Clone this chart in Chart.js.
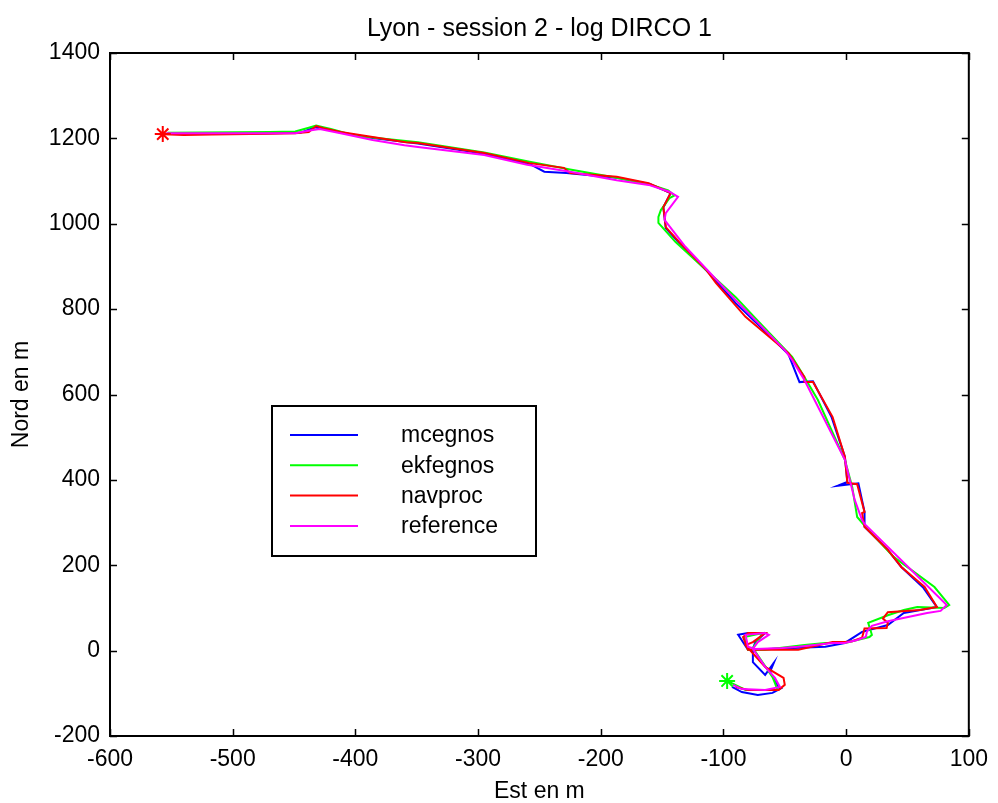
<!DOCTYPE html>
<html>
<head>
<meta charset="utf-8">
<script src="https://cdn.jsdelivr.net/npm/chart.js@4/dist/chart.umd.min.js"></script>
<style>
  html, body { margin: 0; padding: 0; background: #fff; }
  #wrap { width: 998px; height: 803px; }
</style>
</head>
<body>
<div id="wrap"><canvas id="trackChart"></canvas></div>
<script>
// ─── Data (Est / Nord in metres) ──────────────────────────

const chartTitle = 'Lyon - session 2 - log DIRCO 1';
const xTitle = 'Est en m';
const yTitle = 'Nord en m';
const xTicks = [-600, -500, -400, -300, -200, -100, 0, 100];
const yTicks = [-200, 0, 200, 400, 600, 800, 1000, 1200, 1400];

const seriesNames = ['mcegnos', 'ekfegnos', 'navproc', 'reference'];
const seriesColors = ['#0000ff', '#00ff00', '#ff0000', '#ff00ff'];

const mcegnosX = [-556, -520, -470, -445, -433, -412, -386, -349, -295, -258, -246, -228, -187, -160, -143, -149, -148, -147, -136, -112, -90, -65, -47, -38, -27, -12, -1, 1, -7, 10, 15, 15, 34, 45, 63, 74, 47, 34, 13, -1, -17, -80, -88, -80, -66, -74, -76, -76, -66, -59, -62, -55, -53, -60, -72, -85, -93];
const mcegnosY = [1211, 1210, 1212, 1213, 1226, 1214, 1201, 1188, 1164, 1140, 1122, 1119, 1108, 1093, 1072, 1038, 1015, 990, 955, 885, 814, 745, 694, 629, 631, 548, 454, 395, 386, 392, 325, 290, 236, 196, 147, 102, 88, 60, 44, 18, 9, 2, 37, 41, 41, 20, 4, -27, -57, -29, -50, -85, -88, -99, -104, -97, -85];

const ekfegnosX = [-553, -470, -449, -438, -432, -420, -400, -349, -295, -258, -225, -187, -160, -145, -140, -144, -151, -153, -153, -139, -90, -74, -44, -34, -23, -1, 5, 9, 18, 39, 72, 84, 80, 58, 47, 34, 18, 21, 19, -1, -17, -34, -66, -80, -83, -68, -76, -60, -58, -56, -82, -97];
const ekfegnosY = [1213, 1215, 1216, 1225, 1230, 1222, 1206, 1191, 1167, 1145, 1127, 1108, 1092, 1078, 1066, 1060, 1032, 1016, 1002, 957, 828, 779, 688, 641, 587, 447, 383, 313, 283, 219, 149, 107, 100, 102, 95, 83, 65, 37, 32, 18, 18, 13, 2, 2, 32, 41, 6, -62, -76, -92, -92, -71];

const navprocX = [-562, -540, -517, -470, -449, -438, -432, -426, -412, -386, -359, -349, -295, -258, -230, -225, -187, -161, -143, -149, -148, -147, -136, -114, -106, -82, -47, -34, -34, -27, -11, -1, 1, 9, 15, 13, 15, 34, 45, 64, 74, 60, 34, 30, 34, 33, 15, 13, 5, -1, -11, -39, -80, -84, -80, -66, -76, -82, -66, -51, -50, -55, -80, -90];
const navprocY = [1210, 1208, 1209, 1211, 1212, 1215, 1229, 1224, 1215, 1203, 1191, 1189, 1166, 1142, 1131, 1119, 1110, 1095, 1072, 1039, 1016, 992, 957, 892, 861, 782, 697, 641, 629, 629, 547, 454, 393, 390, 325, 322, 290, 236, 196, 149, 102, 95, 90, 75, 65, 53, 52, 30, 22, 20, 20, 2, 2, 32, 41, 41, 20, 13, -38, -64, -80, -92, -92, -85];

const referenceX = [-554, -500, -449, -436, -429, -412, -386, -360, -349, -295, -260, -225, -187, -161, -144, -137, -147, -148, -131, -90, -50, -44, -34, -1, 1, 7, 13, 15, 82, 77, 66, 34, 21, 17, 16, 9, -1, -11, -39, -52, -74, -80, -82, -66, -63, -72, -76, -66, -58, -54, -66, -85, -92];
const referenceY = [1212, 1212, 1212, 1219, 1222, 1212, 1196, 1184, 1180, 1161, 1138, 1122, 1102, 1091, 1075, 1063, 1025, 1009, 946, 821, 704, 681, 634, 447, 423, 353, 306, 297, 107, 93, 88, 69, 58, 45, 32, 25, 18, 18, 9, 6, 4, 9, 37, 41, 37, 20, 4, -38, -64, -85, -92, -90, -80];

// start / end markers
const startX = [-557];
const startY = [1210];
const endX = [-97];
const endY = [-71];

// ─── Helpers ──────────────────────────────────────────────

const FONT = '"Liberation Sans", Arial, Helvetica, sans-serif';
const FSIZE = 23;

function zip(xs, ys) { return xs.map((x, i) => ({ x, y: ys[i] })); }

const seriesX = [mcegnosX, ekfegnosX, navprocX, referenceX];
const seriesY = [mcegnosY, ekfegnosY, navprocY, referenceY];

const datasets = seriesNames.map((name, i) => ({
  label: name,
  data: zip(seriesX[i], seriesY[i]),
  showLine: true,
  borderColor: seriesColors[i],
  backgroundColor: seriesColors[i],
  borderWidth: 2,
  pointRadius: 0,
  tension: 0,
  order: seriesNames.length - i + 2
}));

datasets.push({
  label: 'start',
  data: zip(startX, startY),
  pointStyle: 'star',
  pointRadius: 8,
  borderColor: '#ff0000',
  borderWidth: 2,
  order: 1
});
datasets.push({
  label: 'end',
  data: zip(endX, endY),
  pointStyle: 'star',
  pointRadius: 8,
  borderColor: '#00ff00',
  borderWidth: 2,
  order: 1
});

// ─── Matlab-like frame, inner ticks, title, legend ────────

const matlabFrame = {
  id: 'matlabFrame',
  afterDraw(chart) {
    const { ctx, chartArea: a, scales: { x, y } } = chart;
    ctx.save();
    ctx.strokeStyle = '#000';
    ctx.lineWidth = 2;
    ctx.strokeRect(a.left, a.top, a.right - a.left, a.bottom - a.top);

    const tl = 7;
    ctx.lineWidth = 1.5;
    ctx.beginPath();
    for (const v of xTicks) {
      const px = Math.round(x.getPixelForValue(v)) + 0.5;
      ctx.moveTo(px, a.bottom); ctx.lineTo(px, a.bottom - tl);
      ctx.moveTo(px, a.top); ctx.lineTo(px, a.top + tl);
    }
    for (const v of yTicks) {
      const py = Math.round(y.getPixelForValue(v)) + 0.5;
      ctx.moveTo(a.left, py); ctx.lineTo(a.left + tl, py);
      ctx.moveTo(a.right, py); ctx.lineTo(a.right - tl, py);
    }
    ctx.stroke();

    // title centred over the axes
    ctx.fillStyle = '#000';
    ctx.font = `25px ${FONT}`;
    ctx.textAlign = 'center';
    ctx.textBaseline = 'middle';
    ctx.fillText(chartTitle, (a.left + a.right) / 2, 29);

    // legend box inside the axes
    ctx.font = `${FSIZE}px ${FONT}`;
    const bx = a.left + 162, by = a.top + 353, bw = 264, bh = 150;
    ctx.fillStyle = '#fff';
    ctx.fillRect(bx, by, bw, bh);
    ctx.lineWidth = 2;
    ctx.strokeStyle = '#000';
    ctx.strokeRect(bx, by, bw, bh);
    ctx.textAlign = 'left';
    seriesNames.forEach((name, i) => {
      const ry = by + 29 + i * 30.3;
      ctx.strokeStyle = seriesColors[i];
      ctx.lineWidth = 2;
      ctx.beginPath();
      ctx.moveTo(bx + 18, ry);
      ctx.lineTo(bx + 86, ry);
      ctx.stroke();
      ctx.fillStyle = '#000';
      ctx.fillText(name, bx + 129, ry + 1);
    });
    ctx.restore();
  }
};

// ─── Chart ────────────────────────────────────────────────

Chart.defaults.font.family = FONT;
Chart.defaults.font.size = FSIZE;
Chart.defaults.color = '#000';

new Chart(document.getElementById('trackChart').getContext('2d'), {
  type: 'scatter',
  data: { datasets },
  options: {
    responsive: true,
    maintainAspectRatio: false,
    animation: false,
    layout: { padding: { top: 53, right: 23, left: 0, bottom: 0 } },
    plugins: {
      legend: { display: false },
      tooltip: { enabled: false },
      title: { display: false }
    },
    scales: {
      x: {
        type: 'linear',
        min: -600,
        max: 100,
        afterBuildTicks: s => { s.ticks = xTicks.map(v => ({ value: v })); },
        afterFit: s => { s.height = 67; },
        grid: { display: false, drawTicks: false },
        border: { display: false },
        ticks: { padding: 10, maxRotation: 0, autoSkip: false, callback: v => String(v) },
        title: { display: true, text: xTitle, padding: 0, font: { size: FSIZE, lineHeight: 1 } }
      },
      y: {
        type: 'linear',
        min: -200,
        max: 1400,
        afterBuildTicks: s => { s.ticks = yTicks.map(v => ({ value: v })); },
        afterFit: s => { s.width = 110; },
        grid: { display: false, drawTicks: false },
        border: { display: false },
        ticks: { padding: 10, autoSkip: false, callback: v => String(v) },
        title: { display: true, text: yTitle, padding: { top: 10, bottom: 0 }, font: { size: FSIZE, lineHeight: 1 } }
      }
    }
  },
  plugins: [matlabFrame]
});
</script>
</body>
</html>
